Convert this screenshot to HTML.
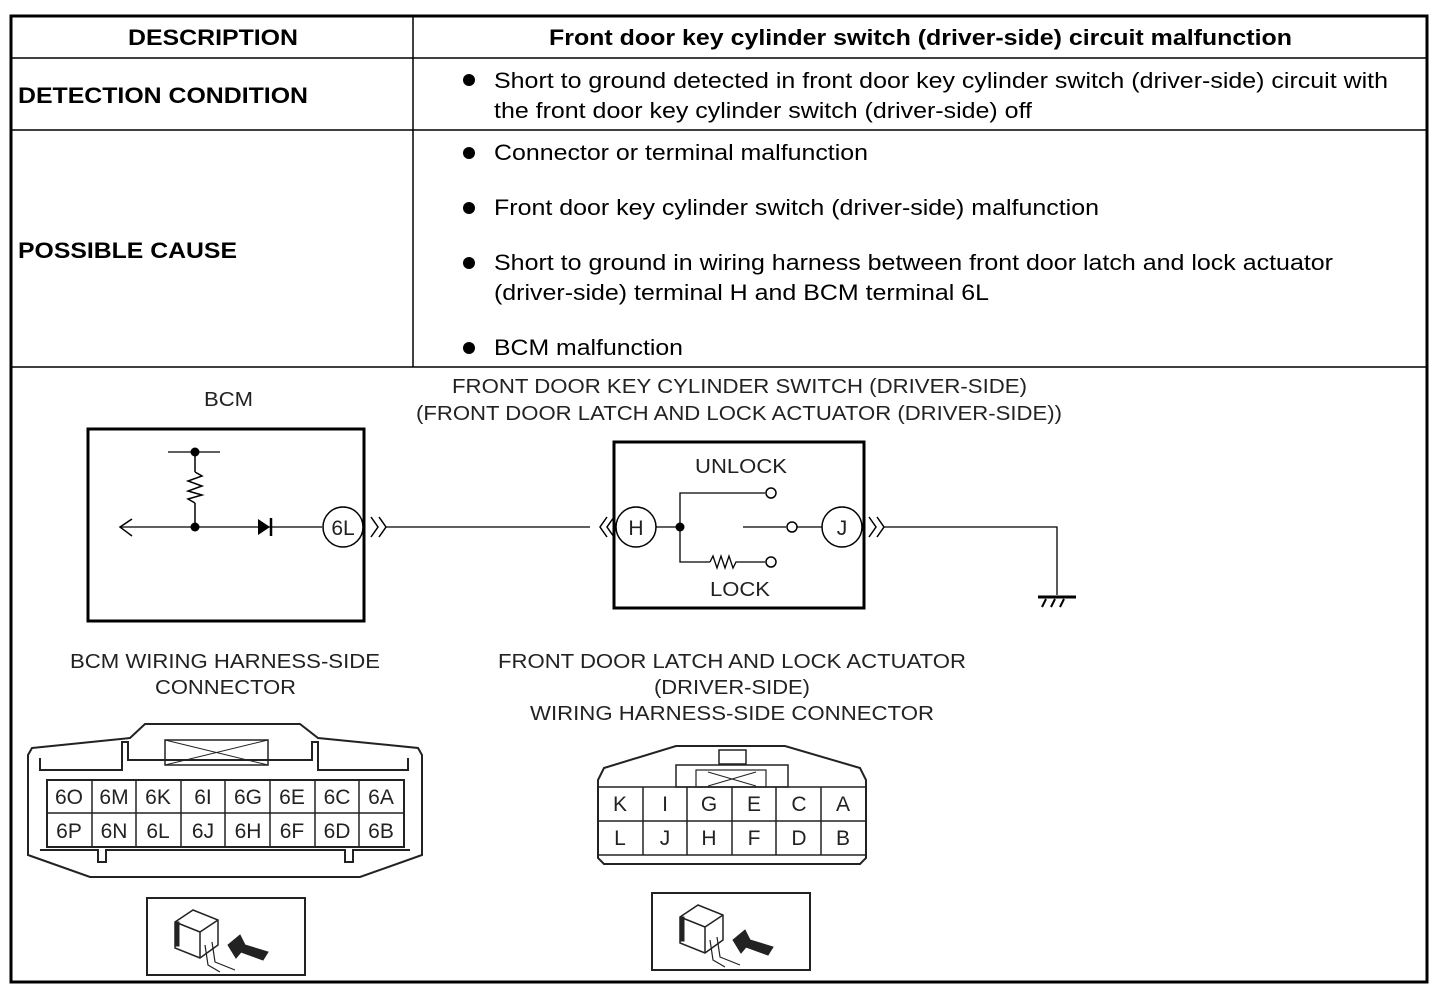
<!DOCTYPE html>
<html><head><meta charset="utf-8"><style>
html,body{margin:0;padding:0;background:#fff;}
svg{display:block;font-family:"Liberation Sans",Arial,sans-serif;}
</style></head><body>
<svg width="1438" height="998" viewBox="0 0 1438 998" xmlns="http://www.w3.org/2000/svg">
<rect x="11" y="16" width="1416" height="966" fill="none" stroke="#000" stroke-width="3"/>
<line x1="11" y1="58" x2="1427" y2="58" stroke="#000" stroke-width="1.5"/>
<line x1="11" y1="130" x2="1427" y2="130" stroke="#000" stroke-width="1.5"/>
<line x1="11" y1="367" x2="1427" y2="367" stroke="#000" stroke-width="1.5"/>
<line x1="413" y1="16" x2="413" y2="367" stroke="#000" stroke-width="1.5"/>
<g font-size="22" font-weight="bold" fill="#000" lengthAdjust="spacingAndGlyphs">
<text x="128" y="45" textLength="170" lengthAdjust="spacingAndGlyphs">DESCRIPTION</text>
<text x="549" y="45" textLength="743" lengthAdjust="spacingAndGlyphs">Front door key cylinder switch (driver-side) circuit malfunction</text>
<text x="18" y="103" textLength="290" lengthAdjust="spacingAndGlyphs">DETECTION CONDITION</text>
<text x="18" y="258" textLength="219" lengthAdjust="spacingAndGlyphs">POSSIBLE CAUSE</text>
</g>
<g font-size="22" fill="#000">
<circle cx="469" cy="80" r="6"/>
<text x="494" y="88" textLength="894" lengthAdjust="spacingAndGlyphs">Short to ground detected in front door key cylinder switch (driver-side) circuit with</text>
<text x="494" y="118" textLength="538" lengthAdjust="spacingAndGlyphs">the front door key cylinder switch (driver-side) off</text>
<circle cx="469" cy="153" r="6"/>
<text x="494" y="160" textLength="374" lengthAdjust="spacingAndGlyphs">Connector or terminal malfunction</text>
<circle cx="469" cy="208" r="6"/>
<text x="494" y="215" textLength="605" lengthAdjust="spacingAndGlyphs">Front door key cylinder switch (driver-side) malfunction</text>
<circle cx="469" cy="263" r="6"/>
<text x="494" y="270" textLength="839" lengthAdjust="spacingAndGlyphs">Short to ground in wiring harness between front door latch and lock actuator</text>
<text x="494" y="300" textLength="495" lengthAdjust="spacingAndGlyphs">(driver-side) terminal H and BCM terminal 6L</text>
<circle cx="469" cy="348" r="6"/>
<text x="494" y="355" textLength="189" lengthAdjust="spacingAndGlyphs">BCM malfunction</text>
</g>
<g font-size="20" fill="#222">
<text x="204" y="406" textLength="49" lengthAdjust="spacingAndGlyphs">BCM</text>
<text x="452" y="393" textLength="575" lengthAdjust="spacingAndGlyphs">FRONT DOOR KEY CYLINDER SWITCH (DRIVER-SIDE)</text>
<text x="416" y="420" textLength="646" lengthAdjust="spacingAndGlyphs">(FRONT DOOR LATCH AND LOCK ACTUATOR (DRIVER-SIDE))</text>
<text x="70" y="668" textLength="310" lengthAdjust="spacingAndGlyphs">BCM WIRING HARNESS-SIDE</text>
<text x="155" y="694" textLength="141" lengthAdjust="spacingAndGlyphs">CONNECTOR</text>
<text x="498" y="668" textLength="468" lengthAdjust="spacingAndGlyphs">FRONT DOOR LATCH AND LOCK ACTUATOR</text>
<text x="654" y="694" textLength="156" lengthAdjust="spacingAndGlyphs">(DRIVER-SIDE)</text>
<text x="530" y="720" textLength="404" lengthAdjust="spacingAndGlyphs">WIRING HARNESS-SIDE CONNECTOR</text>
<text x="695" y="473" textLength="92" lengthAdjust="spacingAndGlyphs">UNLOCK</text>
<text x="710" y="596" textLength="60" lengthAdjust="spacingAndGlyphs">LOCK</text>
</g>
<g stroke="#000" fill="none">
<rect x="88" y="429" width="276" height="192" stroke-width="3"/>
<line x1="120" y1="527" x2="322" y2="527" stroke-width="1.3"/>
<polyline points="132,519 120,527 132,536" stroke-width="1.5"/>
<line x1="168" y1="452" x2="220" y2="452" stroke-width="1.3"/>
<line x1="195" y1="452" x2="195" y2="472" stroke-width="1.5"/>
<polyline points="195,472 202,476 188,481 202,486 188,491 202,495 188,499 195,503" stroke-width="1.5"/>
<line x1="195" y1="503" x2="195" y2="527" stroke-width="1.5"/>
<circle cx="343" cy="527" r="20" stroke-width="1.5"/>
<polyline points="371,517 378,527 371,537" stroke-width="1.5"/>
<polyline points="379,517 386,527 379,537" stroke-width="1.5"/>
<line x1="386" y1="527" x2="590" y2="527" stroke-width="1.3"/>
</g>
<circle cx="195" cy="452" r="4.5"/><circle cx="195" cy="527" r="4.5"/>
<polygon points="258,519 258,535 270,527"/><line x1="271" y1="518" x2="271" y2="536" stroke="#000" stroke-width="2.5"/>
<text x="343" y="535" font-size="21" text-anchor="middle" fill="#222">6L</text>
<g stroke="#000" fill="none">
<rect x="614" y="442" width="250" height="166" stroke-width="3"/>
<polyline points="607,517 600,527 607,537" stroke-width="1.5"/>
<polyline points="614,517 607,527 614,537" stroke-width="1.5"/>
<circle cx="636" cy="527" r="20" stroke-width="1.5"/>
<line x1="656" y1="527" x2="680" y2="527" stroke-width="1.3"/>
<polyline points="765,493 680,493 680,562 710,562" stroke-width="1.3"/>
<polyline points="710,562 713,556 717,568 721,556 725,568 729,556 733,568 736,562 765,562" stroke-width="1.3"/>
<circle cx="771" cy="493" r="5" stroke-width="1.5"/>
<circle cx="771" cy="562" r="5" stroke-width="1.5"/>
<line x1="743" y1="527" x2="786" y2="527" stroke-width="1.3"/>
<circle cx="792" cy="527" r="5" stroke-width="1.5"/>
<line x1="797" y1="527" x2="822" y2="527" stroke-width="1.3"/>
<circle cx="842" cy="527" r="20" stroke-width="1.5"/>
<polyline points="869,517 876,527 869,537" stroke-width="1.5"/>
<polyline points="877,517 884,527 877,537" stroke-width="1.5"/>
<polyline points="884,527 1057,527 1057,595" stroke-width="1.3"/>
<line x1="1038" y1="597" x2="1076" y2="597" stroke-width="3"/>
<line x1="1046" y1="599" x2="1042" y2="607" stroke-width="2"/>
<line x1="1055" y1="599" x2="1051" y2="607" stroke-width="2"/>
<line x1="1064" y1="599" x2="1060" y2="607" stroke-width="2"/>
</g>
<circle cx="680" cy="527" r="4.5"/>
<g font-size="21" fill="#222" text-anchor="middle">
<text x="636" y="535">H</text><text x="842" y="535">J</text>
</g>
<g stroke="#222" fill="none" stroke-width="2">
<path d="M32,748 L130,738 L145,724 L300,724 L318,738 L418,748 L422,755 L422,855 L360,877 L90,877 L28,855 L28,755 Z"/>
<path d="M40,758 L40,770 L122,770 L122,742 L128,742 L128,760 L312,760 L312,742 L318,742 L318,770 L408,770 L408,758"/>
<rect x="165" y="740" width="103" height="25" stroke-width="1.5"/>
<line x1="165" y1="740" x2="268" y2="765" stroke-width="1"/>
<line x1="165" y1="765" x2="268" y2="740" stroke-width="1"/>
<path d="M40,850 L98,850 L98,862 L106,862 L106,850 L345,850 L345,862 L353,862 L353,850 L410,850"/>
<rect x="47" y="780" width="357" height="67" stroke-width="2"/>
<line x1="47" y1="813" x2="404" y2="813" stroke-width="1.5"/>
<line x1="92" y1="780" x2="92" y2="847" stroke-width="1.5"/>
<line x1="136" y1="780" x2="136" y2="847" stroke-width="1.5"/>
<line x1="181" y1="780" x2="181" y2="847" stroke-width="1.5"/>
<line x1="225" y1="780" x2="225" y2="847" stroke-width="1.5"/>
<line x1="270" y1="780" x2="270" y2="847" stroke-width="1.5"/>
<line x1="315" y1="780" x2="315" y2="847" stroke-width="1.5"/>
<line x1="359" y1="780" x2="359" y2="847" stroke-width="1.5"/>
</g>
<g font-size="21" fill="#222" text-anchor="middle">
<text x="69" y="804">6O</text><text x="114" y="804">6M</text><text x="158" y="804">6K</text><text x="203" y="804">6I</text><text x="248" y="804">6G</text><text x="292" y="804">6E</text><text x="337" y="804">6C</text><text x="381" y="804">6A</text>
<text x="69" y="838">6P</text><text x="114" y="838">6N</text><text x="158" y="838">6L</text><text x="203" y="838">6J</text><text x="248" y="838">6H</text><text x="292" y="838">6F</text><text x="337" y="838">6D</text><text x="381" y="838">6B</text>
</g>
<g stroke="#222" fill="none" stroke-width="2">
<path d="M676,746 L785,746 L860,768 L866,780 L866,858 L860,864 L604,864 L598,858 L598,780 L604,768 Z"/>
<rect x="676" y="765" width="112" height="22" stroke-width="1.5"/>
<rect x="719" y="750" width="27" height="14" stroke-width="1.5"/>
<rect x="696" y="770" width="70" height="17" stroke-width="1.2"/>
<line x1="708" y1="772" x2="756" y2="786" stroke-width="1"/><line x1="708" y1="786" x2="756" y2="772" stroke-width="1"/>
<line x1="598" y1="787" x2="866" y2="787" stroke-width="1.5"/>
<line x1="598" y1="821" x2="866" y2="821" stroke-width="1.5"/>
<line x1="598" y1="855" x2="866" y2="855" stroke-width="1.5"/>
<line x1="643" y1="787" x2="643" y2="855" stroke-width="1.5"/>
<line x1="687" y1="787" x2="687" y2="855" stroke-width="1.5"/>
<line x1="732" y1="787" x2="732" y2="855" stroke-width="1.5"/>
<line x1="776" y1="787" x2="776" y2="855" stroke-width="1.5"/>
<line x1="821" y1="787" x2="821" y2="855" stroke-width="1.5"/>
</g>
<g font-size="21" fill="#222" text-anchor="middle">
<text x="620" y="811">K</text><text x="665" y="811">I</text><text x="709" y="811">G</text><text x="754" y="811">E</text><text x="799" y="811">C</text><text x="843" y="811">A</text>
<text x="620" y="845">L</text><text x="665" y="845">J</text><text x="709" y="845">H</text><text x="754" y="845">F</text><text x="799" y="845">D</text><text x="843" y="845">B</text>
</g>
<g id="ic" stroke="#222" fill="none">
<rect x="147" y="898" width="158" height="77" stroke-width="2"/>
<path d="M175,922 L193,910 L218,920 L218,945 L200,958 L175,948 Z" stroke-width="1.5"/>
<path d="M175,922 L200,932 L218,920 M200,932 L200,958" stroke-width="1.5"/>
<rect x="175" y="922" width="4" height="24" fill="#222"/>
<path d="M205,945 L208,965 L220,972 M212,942 L215,962 L235,970" stroke-width="1.2"/>
<polygon points="228,945 240,935 245,945 268,952 263,960 241,952 236,958" fill="#222"/>
</g>
<use href="#ic" x="505" y="-5"/>
</svg>
</body></html>
